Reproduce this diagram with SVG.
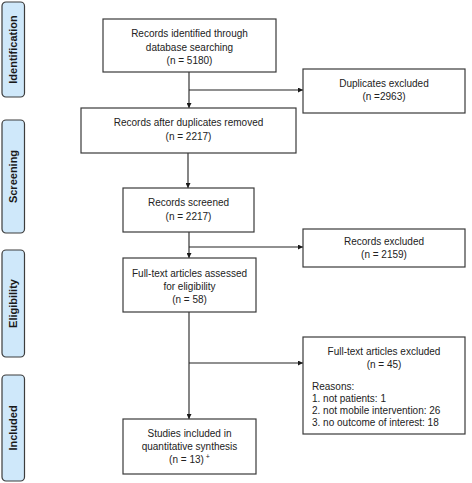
<svg xmlns="http://www.w3.org/2000/svg" width="472" height="483" viewBox="0 0 472 483">
<defs>
<marker id="ah" viewBox="0 0 8 8" refX="8" refY="4" markerWidth="5" markerHeight="5" orient="auto" markerUnits="userSpaceOnUse">
<path d="M0,0 L8,4 L0,8 z" fill="#1a1a1a"/>
</marker>
</defs>
<style>
.box{fill:#ffffff;stroke:#3a3a3a;stroke-width:1.2}
.side{fill:#cfe8fa;stroke:#3c3c3c;stroke-width:1.2}
.t{font-family:"Liberation Sans",Arial,sans-serif;font-size:10px;fill:#222;text-anchor:middle}
.l{text-anchor:start}
.s{font-family:"Liberation Sans",Arial,sans-serif;font-size:11px;font-weight:bold;fill:#1a1a1a;text-anchor:middle}
.c{fill:none;stroke:#222;stroke-width:1.1}
</style>
<rect width="472" height="483" fill="#ffffff"/>
<g id="stage-identification">
<rect class="side" x="2" y="2" width="22.5" height="95" rx="4"/>
<text class="s" transform="translate(17,49.5) rotate(-90)">Identification</text>
</g>
<g id="stage-screening">
<rect class="side" x="2" y="120" width="22.5" height="113" rx="4"/>
<text class="s" transform="translate(17,176.5) rotate(-90)">Screening</text>
</g>
<g id="stage-eligibility">
<rect class="side" x="2" y="250" width="22.5" height="107" rx="4"/>
<text class="s" transform="translate(17,303.5) rotate(-90)">Eligibility</text>
</g>
<g id="stage-included">
<rect class="side" x="2" y="375" width="22.5" height="106" rx="4"/>
<text class="s" transform="translate(17,428) rotate(-90)">Included</text>
</g>
<g id="connectors">
<path class="c" d="M189,72 V108" marker-end="url(#ah)"/>
<path class="c" d="M189,90 H303" marker-end="url(#ah)"/>
<path class="c" d="M188,153 V188" marker-end="url(#ah)"/>
<path class="c" d="M189,232 V258" marker-end="url(#ah)"/>
<path class="c" d="M189,247 H303" marker-end="url(#ah)"/>
<path class="c" d="M189,312 V419" marker-end="url(#ah)"/>
<path class="c" d="M189,363 H303" marker-end="url(#ah)"/>
</g>
<g id="records-identified">
<rect class="box" x="103" y="19" width="173" height="53"/>
<text class="t" x="189.5" y="37">Records identified through</text>
<text class="t" x="189.5" y="51">database searching</text>
<text class="t" x="189.5" y="64">(n = 5180)</text>
</g>
<g id="duplicates-excluded">
<rect class="box" x="303" y="69" width="162" height="44"/>
<text class="t" x="384" y="87">Duplicates excluded</text>
<text class="t" x="384" y="100">(n =2963)</text>
</g>
<g id="records-after-duplicates">
<rect class="box" x="81" y="108" width="215" height="45"/>
<text class="t" x="188.5" y="126">Records after duplicates removed</text>
<text class="t" x="188.5" y="140">(n = 2217)</text>
</g>
<g id="records-screened">
<rect class="box" x="123" y="188" width="131" height="44"/>
<text class="t" x="188.5" y="206">Records screened</text>
<text class="t" x="188.5" y="220">(n = 2217)</text>
</g>
<g id="records-excluded">
<rect class="box" x="303" y="229" width="162" height="38"/>
<text class="t" x="384" y="245">Records excluded</text>
<text class="t" x="384" y="258">(n = 2159)</text>
</g>
<g id="fulltext-assessed">
<rect class="box" x="123" y="258" width="133" height="54"/>
<text class="t" x="189.5" y="277">Full-text articles assessed</text>
<text class="t" x="189.5" y="290">for eligibility</text>
<text class="t" x="189.5" y="303">(n = 58)</text>
</g>
<g id="fulltext-excluded">
<rect class="box" x="303" y="337" width="162" height="97"/>
<text class="t" x="384" y="355">Full-text articles excluded</text>
<text class="t" x="384" y="368">(n = 45)</text>
<text class="t l" x="312" y="390">Reasons:</text>
<text class="t l" x="312" y="402">1. not patients: 1</text>
<text class="t l" x="312" y="414">2. not mobile intervention: 26</text>
<text class="t l" x="312" y="426">3. no outcome of interest: 18</text>
</g>
<g id="studies-included">
<rect class="box" x="123" y="419" width="133" height="55"/>
<text class="t" x="189.5" y="437">Studies included in</text>
<text class="t" x="189.5" y="450">quantitative synthesis</text>
<text class="t" x="189.5" y="463">(n = 13)<tspan dy="-4" font-size="7"> +</tspan></text>
</g>
</svg>
